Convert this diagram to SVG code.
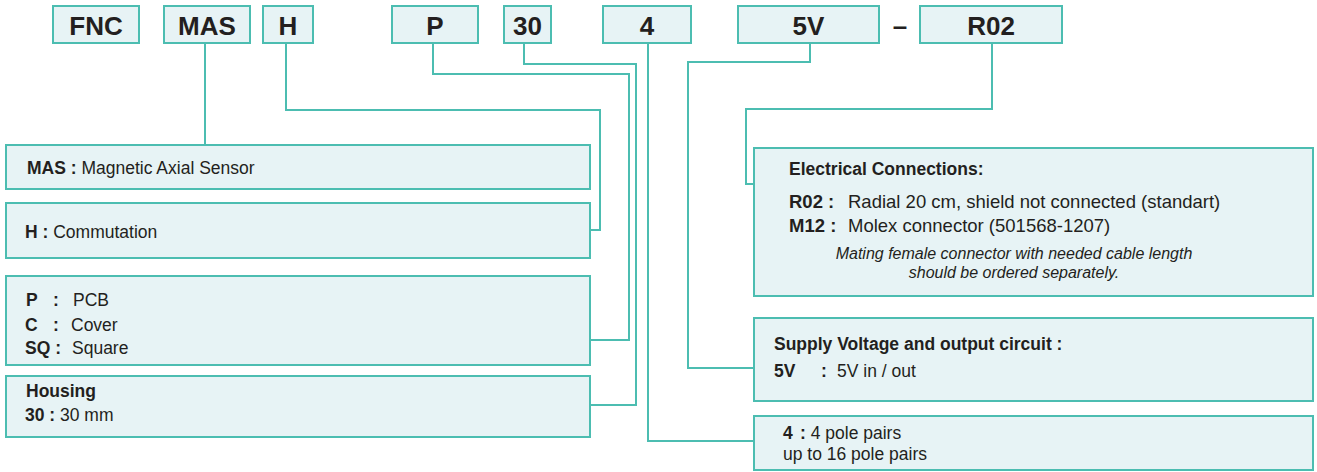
<svg xmlns="http://www.w3.org/2000/svg" width="1317" height="472" viewBox="0 0 1317 472">
<style>
.box{fill:#e7f3f5;stroke:#4cbdb1;stroke-width:2}
.ln{fill:none;stroke:#4cbdb1;stroke-width:2}
text{font-family:"Liberation Sans",Arial,sans-serif;fill:#231f20}
.code{font-size:26px;font-weight:bold;text-anchor:middle}
.t{font-size:17.5px}
.tr{font-size:18.5px}
.b{font-weight:bold}
.it{font-size:16px;font-style:italic;text-anchor:middle}
</style>
<rect width="1317" height="472" fill="#ffffff"/>
<g id="connectors">
<path class="ln" d="M205,43 V145"/>
<path class="ln" d="M286,43 V110 H600 V230 H590"/>
<path class="ln" d="M433,43 V74 H629 V340 H590"/>
<path class="ln" d="M524,43 V64 H636 V405 H590"/>
<path class="ln" d="M648,43 V441 H754"/>
<path class="ln" d="M810,43 V62 H688 V368 H754"/>
<path class="ln" d="M992,43 V109 H746 V184 H754"/>
</g>
<g id="code-FNC"><rect class="box" x="53" y="6" width="86" height="37"/><text class="code" x="96" y="35">FNC</text></g>
<g id="code-MAS"><rect class="box" x="164" y="6" width="86" height="37"/><text class="code" x="207" y="35">MAS</text></g>
<g id="code-H"><rect class="box" x="263" y="6" width="50" height="37"/><text class="code" x="288" y="35">H</text></g>
<g id="code-P"><rect class="box" x="392" y="6" width="86" height="37"/><text class="code" x="435" y="35">P</text></g>
<g id="code-30"><rect class="box" x="504" y="6" width="47" height="37"/><text class="code" x="527.5" y="35">30</text></g>
<g id="code-4"><rect class="box" x="603" y="6" width="88" height="37"/><text class="code" x="647" y="35">4</text></g>
<g id="code-5V"><rect class="box" x="738" y="6" width="141" height="37"/><text class="code" x="808.5" y="35">5V</text></g>
<g id="dash"><text class="code" x="900" y="35">–</text></g>
<g id="code-R02"><rect class="box" x="920" y="6" width="142" height="37"/><text class="code" x="991" y="35">R02</text></g>

<g id="desc-MAS"><rect class="box" x="6" y="145" width="584" height="44"/>
<text class="t" x="27" y="174"><tspan class="b">MAS :</tspan> Magnetic Axial Sensor</text></g>
<g id="desc-H"><rect class="box" x="6" y="203" width="584" height="55"/>
<text class="t" x="25" y="238"><tspan class="b">H :</tspan> Commutation</text></g>
<g id="desc-P"><rect class="box" x="6" y="276" width="584" height="89"/>
<text class="t b" x="26" y="306">P</text><text class="t b" x="53" y="306">:</text><text class="t" x="73" y="306">PCB</text>
<text class="t b" x="25" y="331">C</text><text class="t b" x="53" y="331">:</text><text class="t" x="71" y="331">Cover</text>
<text class="t b" x="25" y="354">SQ :</text><text class="t" x="72" y="354">Square</text></g>
<g id="desc-30"><rect class="box" x="6" y="376" width="584" height="61"/>
<text class="t b" x="26" y="397">Housing</text>
<text class="t" x="25" y="421"><tspan class="b">30 :</tspan> 30 mm</text></g>

<g id="desc-R02"><rect class="box" x="754" y="148" width="559" height="148"/>
<text class="t b" x="789" y="175">Electrical Connections:</text>
<text class="tr b" x="789" y="208">R02 :</text><text class="tr" x="848" y="208">Radial 20 cm, shield not connected (standart)</text>
<text class="tr b" x="789" y="232">M12 :</text><text class="tr" x="848" y="232">Molex connector (501568-1207)</text>
<text class="it" x="1014" y="259">Mating female connector with needed cable length</text>
<text class="it" x="1014" y="278">should be ordered separately.</text></g>
<g id="desc-5V"><rect class="box" x="754" y="318" width="559" height="83"/>
<text class="t b" x="774" y="350">Supply Voltage and output circuit :</text>
<text class="t b" x="774" y="377">5V</text><text class="t b" x="821" y="377">:</text><text class="t" x="837" y="377">5V in / out</text></g>
<g id="desc-4"><rect class="box" x="754" y="416" width="559" height="54"/>
<text class="t b" x="783" y="439">4</text><text class="t" x="800" y="439"><tspan class="b">:</tspan> 4 pole pairs</text>
<text class="t" x="783" y="460">up to 16 pole pairs</text></g>
</svg>
